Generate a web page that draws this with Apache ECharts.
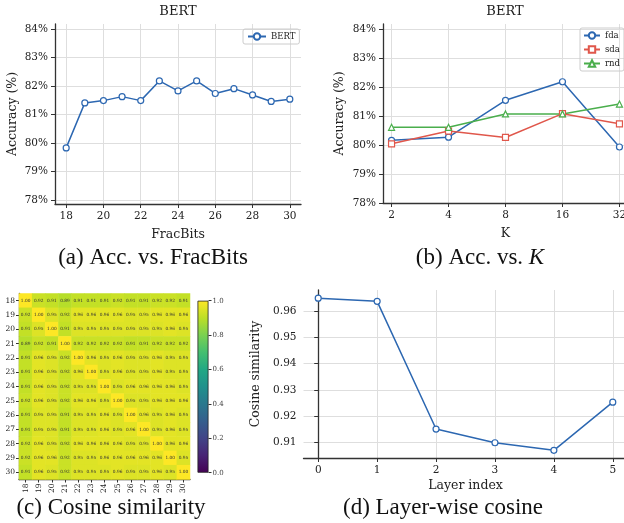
<!DOCTYPE html>
<html>
<head>
<meta charset="utf-8">
<script src="https://cdn.jsdelivr.net/npm/echarts@6/dist/echarts.min.js"></script>
<style>
html, body { margin: 0; padding: 0; background: #fff; }
#main { width: 624px; height: 523px; }
</style>
</head>
<body>
<div id="main"></div>
<script>
// (a) accuracy vs FracBits
var fracBits = [18, 19, 20, 21, 22, 23, 24, 25, 26, 27, 28, 29, 30];
var bertAcc = [79.83, 81.41, 81.49, 81.63, 81.49, 82.18, 81.83, 82.18, 81.74, 81.91, 81.69, 81.46, 81.54];
var fracTicks = [18, 20, 22, 24, 26, 28, 30];
var accTicks = [78, 79, 80, 81, 82, 83, 84];

// (b) accuracy vs K
var kValues = [2, 4, 8, 16, 32];
var fdaAcc = [80.16, 80.27, 81.54, 82.18, 79.93];
var sdaAcc = [80.04, 80.48, 80.26, 81.08, 80.73];
var rndAcc = [80.61, 80.61, 81.07, 81.07, 81.41];

// (c) cosine similarity between FracBits settings
var simMatrix = [
    [1.00, 0.92, 0.91, 0.89, 0.91, 0.91, 0.91, 0.92, 0.91, 0.91, 0.92, 0.92, 0.91],
    [0.92, 1.00, 0.95, 0.92, 0.96, 0.96, 0.96, 0.96, 0.95, 0.95, 0.96, 0.96, 0.96],
    [0.91, 0.95, 1.00, 0.91, 0.95, 0.95, 0.95, 0.95, 0.95, 0.95, 0.95, 0.96, 0.95],
    [0.89, 0.92, 0.91, 1.00, 0.92, 0.92, 0.92, 0.92, 0.91, 0.91, 0.92, 0.92, 0.92],
    [0.91, 0.96, 0.95, 0.92, 1.00, 0.96, 0.95, 0.96, 0.95, 0.95, 0.96, 0.95, 0.95],
    [0.91, 0.96, 0.95, 0.92, 0.96, 1.00, 0.95, 0.96, 0.95, 0.95, 0.96, 0.95, 0.95],
    [0.91, 0.96, 0.95, 0.92, 0.95, 0.95, 1.00, 0.95, 0.96, 0.96, 0.96, 0.96, 0.95],
    [0.92, 0.96, 0.95, 0.92, 0.96, 0.96, 0.95, 1.00, 0.95, 0.95, 0.96, 0.96, 0.96],
    [0.91, 0.95, 0.95, 0.91, 0.95, 0.95, 0.96, 0.95, 1.00, 0.96, 0.95, 0.96, 0.95],
    [0.91, 0.95, 0.95, 0.91, 0.95, 0.95, 0.96, 0.95, 0.96, 1.00, 0.95, 0.96, 0.95],
    [0.92, 0.96, 0.95, 0.92, 0.96, 0.96, 0.96, 0.96, 0.95, 0.95, 1.00, 0.96, 0.96],
    [0.92, 0.96, 0.96, 0.92, 0.95, 0.95, 0.96, 0.96, 0.96, 0.96, 0.96, 1.00, 0.95],
    [0.91, 0.96, 0.95, 0.92, 0.95, 0.95, 0.95, 0.96, 0.95, 0.95, 0.96, 0.95, 1.00]
];
var cbarTicks = [0, 0.2, 0.4, 0.6, 0.8, 1.0];

// (d) layer-wise cosine
var layerIdx = [0, 1, 2, 3, 4, 5];
var layerCos = [0.9648, 0.9636, 0.9151, 0.9099, 0.9070, 0.9253];
var cosTicks = [0.91, 0.92, 0.93, 0.94, 0.95, 0.96];

var viridis = ['#440154', '#482475', '#414487', '#355f8d', '#2a788e', '#21918c',
    '#22a884', '#44bf70', '#7ad151', '#bddf26', '#fde725'];

var serif = 'DejaVu Serif';
var blue = '#2c67b1', red = '#e0574b', green = '#4aae4c';

function pairs(xs, ys) {
    return xs.map(function (x, i) { return [x, ys[i]]; });
}

function numAxis(gridIndex, min, max, ticks, fmt, extra) {
    var ax = {
        type: 'value',
        gridIndex: gridIndex,
        min: min,
        max: max,
        axisLine: { show: true, lineStyle: { color: '#333', width: 1.3 } },
        axisTick: { show: true, length: 4, customValues: ticks, lineStyle: { color: '#333' } },
        axisLabel: { customValues: ticks, formatter: fmt, fontFamily: serif, fontSize: 10.5, color: '#222', margin: 7 },
        splitLine: { show: true, lineStyle: { color: '#dedede', width: 1 } },
        nameLocation: 'middle',
        nameTextStyle: { fontFamily: serif, fontSize: 12.5, color: '#222' }
    };
    for (var k in extra) ax[k] = extra[k];
    return ax;
}

var pct = function (v) { return Math.round(v) + '%'; };

var heatData = [];
simMatrix.forEach(function (row, r) {
    row.forEach(function (v, c) { heatData.push([c, r, v]); });
});

var lineBase = function (name, data, color, symbol, xi, yi) {
    return {
        name: name, type: 'line', data: data,
        xAxisIndex: xi, yAxisIndex: yi,
        symbol: symbol, symbolSize: 6,
        lineStyle: { color: color, width: 1.5 },
        itemStyle: { color: '#fff', borderColor: color, borderWidth: 1.2 },
        emphasis: { disabled: true }
    };
};

// caption text under each panel
function caption(x, y, text, rich) {
    return { type: 'text', x: x, y: y, style: { text: text, font: '23px "Liberation Serif"', fill: '#111',
        align: 'center', verticalAlign: 'middle', rich: rich } };
}

var myChart = echarts.init(document.getElementById('main'));
var option = {
    animation: false,
    backgroundColor: '#fff',
    grid: [
        { left: 55, top: 24, width: 246, height: 180, outerBoundsMode: 'none' },
        { left: 383, top: 24, width: 245, height: 179, outerBoundsMode: 'none' },
        { left: 19, top: 293.5, width: 171, height: 186, outerBoundsMode: 'none' },
        { left: 197.5, top: 300.7, width: 11, height: 172, outerBoundsMode: 'none' },
        { left: 303.5, top: 290, width: 324, height: 168, outerBoundsMode: 'none' }
    ],
    xAxis: [
        numAxis(0, 17.4, 30.6, fracTicks, null, { name: 'FracBits', nameGap: 24 }),
        numAxis(1, Math.pow(2, 0.85), Math.pow(2, 5.15), kValues, null,
            { type: 'log', logBase: 2, name: 'K', nameGap: 24 }),
        {
            type: 'category', gridIndex: 2, data: fracBits.map(String),
            axisLine: { show: true, lineStyle: { color: '#333', width: 1.3 } },
            axisTick: { show: true, alignWithLabel: true, length: 3, lineStyle: { color: '#333' } },
            axisLabel: { rotate: 90, fontFamily: serif, fontSize: 7.5, color: '#222', margin: 4 },
            splitLine: { show: false }
        },
        { type: 'category', gridIndex: 3, data: ['c'], show: false },
        numAxis(4, -0.25, 5.25, layerIdx, null, { name: 'Layer index', nameGap: 21 })
    ],
    yAxis: [
        numAxis(0, 77.86, 84.18, accTicks, pct, { name: 'Accuracy (%)', nameGap: 36 }),
        numAxis(1, 78, 84.17, accTicks, pct, { name: 'Accuracy (%)', nameGap: 37 }),
        {
            type: 'category', gridIndex: 2, inverse: true, data: fracBits.map(String),
            axisLine: { show: true, lineStyle: { color: '#333', width: 1.3 } },
            axisTick: { show: true, alignWithLabel: true, length: 3, lineStyle: { color: '#333' } },
            axisLabel: { fontFamily: serif, fontSize: 7.5, color: '#222', margin: 4 },
            splitLine: { show: false }
        },
        {
            type: 'value', gridIndex: 3, min: 0, max: 1, position: 'right',
            axisLine: { show: false },
            axisTick: { show: true, length: 3, customValues: cbarTicks, lineStyle: { color: '#333' } },
            axisLabel: { customValues: cbarTicks, formatter: function (v) { return v.toFixed(1); },
                fontFamily: serif, fontSize: 7, color: '#444', margin: 4 },
            splitLine: { show: false }
        },
        numAxis(4, 0.9041, 0.9679, cosTicks, function (v) { return v.toFixed(2); },
            { name: 'Cosine similarity', nameGap: 33 })
    ],
    visualMap: {
        type: 'continuous', show: false, min: 0, max: 1, seriesIndex: 4,
        inRange: { color: viridis }
    },
    legend: [
        {
            data: ['BERT'], left: 243, top: 29, itemWidth: 18, itemHeight: 8, itemGap: 4,
            padding: [3, 4, 3, 4], borderColor: '#ccc', borderWidth: 1, borderRadius: 2,
            textStyle: { fontFamily: serif, fontSize: 8.5, color: '#222' }
        },
        {
            data: ['fda', 'sda', 'rnd'], orient: 'vertical', left: 580, top: 28,
            itemWidth: 16, itemHeight: 8, itemGap: 5,
            padding: [3, 4, 3, 3], borderColor: '#ccc', borderWidth: 1, borderRadius: 2,
            textStyle: { fontFamily: serif, fontSize: 8.5, color: '#222' }
        }
    ],
    series: [
        lineBase('BERT', pairs(fracBits, bertAcc), blue, 'circle', 0, 0),
        lineBase('fda', pairs(kValues, fdaAcc), blue, 'circle', 1, 1),
        lineBase('sda', pairs(kValues, sdaAcc), red, 'rect', 1, 1),
        lineBase('rnd', pairs(kValues, rndAcc), green, 'triangle', 1, 1),
        {
            type: 'heatmap', xAxisIndex: 2, yAxisIndex: 2, data: heatData,
            label: {
                show: true, fontFamily: serif, fontSize: 4.3, color: '#333',
                formatter: function (p) { return p.value[2].toFixed(2); }
            },
            emphasis: { disabled: true }
        },
        {
            type: 'bar', xAxisIndex: 3, yAxisIndex: 3, data: [1], barWidth: '100%',
            itemStyle: {
                borderColor: '#222', borderWidth: 0.8,
                color: new echarts.graphic.LinearGradient(0, 0, 0, 1,
                    viridis.slice().reverse().map(function (c, i) { return { offset: i / 10, color: c }; }))
            },
            emphasis: { disabled: true }
        },
        lineBase('layer', pairs(layerIdx, layerCos), blue, 'circle', 4, 4)
    ],
    graphic: [
        { type: 'text', x: 178, y: 12, style: { text: 'BERT', font: '13px "DejaVu Serif"', fill: '#222', align: 'center', verticalAlign: 'middle' } },
        { type: 'text', x: 505, y: 12, style: { text: 'BERT', font: '13px "DejaVu Serif"', fill: '#222', align: 'center', verticalAlign: 'middle' } },
        caption(153, 258, '(a) Acc. vs. FracBits'),
        caption(480, 258, '(b) Acc. vs. {i|K}', { i: { fontStyle: 'italic', fontFamily: 'Liberation Serif', fontSize: 23 } }),
        caption(111, 508, '(c) Cosine similarity'),
        caption(443, 508, '(d) Layer-wise cosine')
    ]
};
myChart.setOption(option);
</script>
</body>
</html>
